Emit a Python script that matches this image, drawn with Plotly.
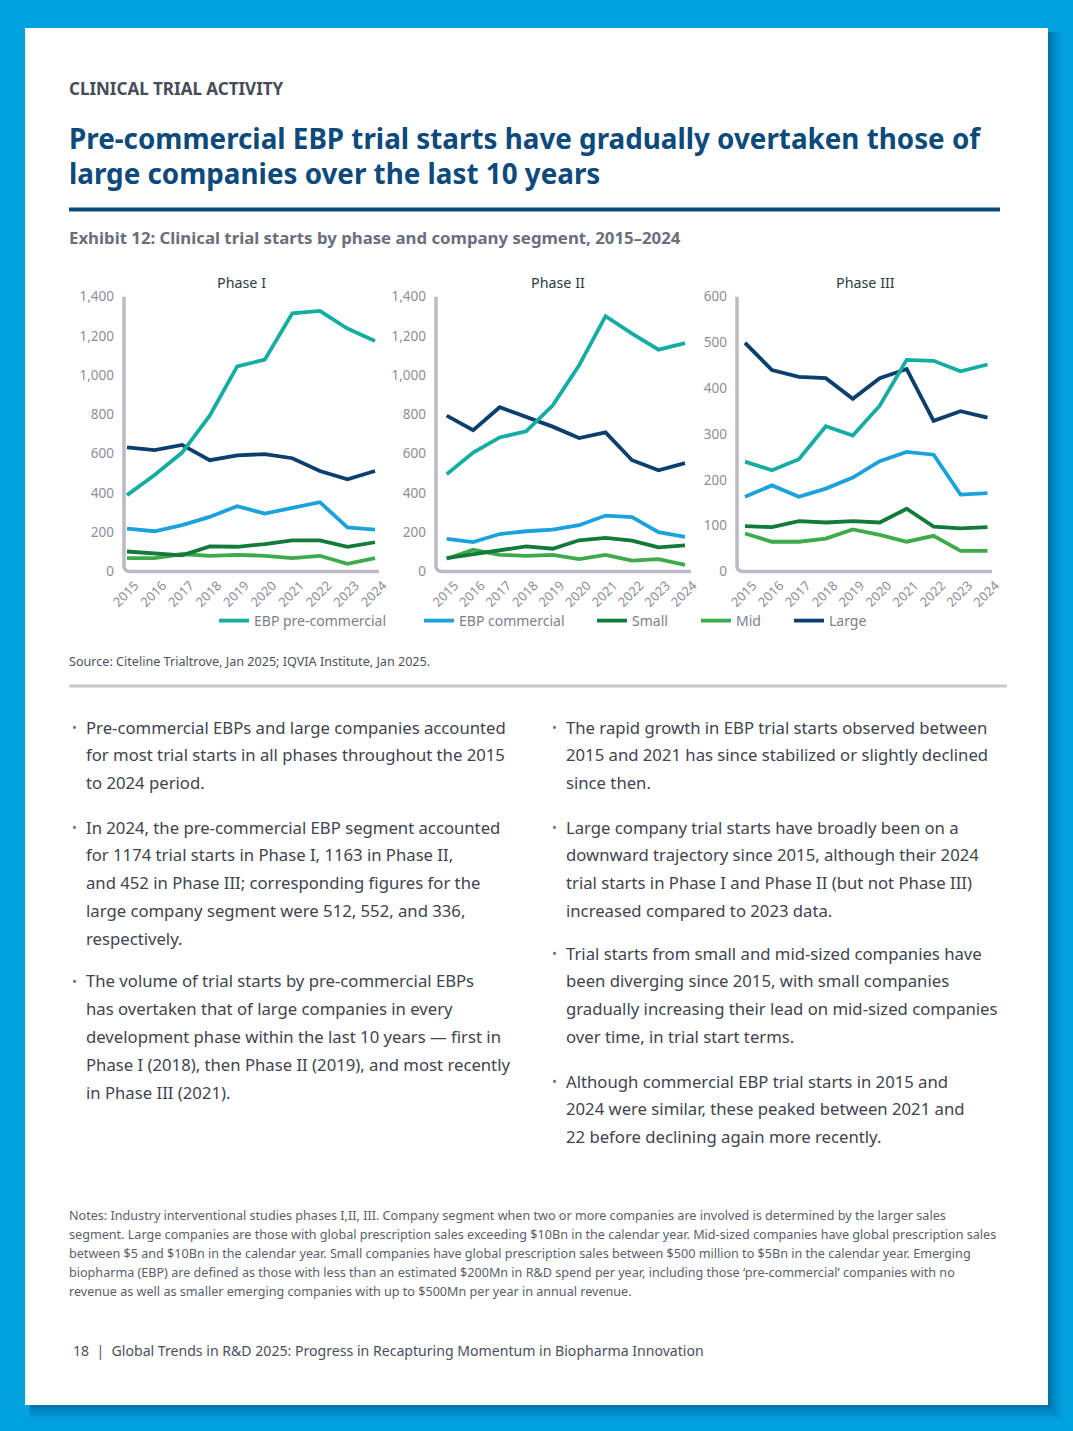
import plotly.graph_objects as go

W, H = 1073, 1431

# ---------------- data ----------------
years = [2015, 2016, 2017, 2018, 2019, 2020, 2021, 2022, 2023, 2024]
year_labels = [str(y) for y in years]
series_names = ["EBP pre-commercial", "EBP commercial", "Small", "Mid", "Large"]
phase_titles = ["Phase I", "Phase II", "Phase III"]

p1_precommercial = [389, 492, 606, 794, 1045, 1079, 1315, 1328, 1238, 1174]
p1_commercial = [218, 205, 236, 278, 333, 295, 324, 353, 225, 213]
p1_small = [102, 92, 82, 128, 126, 140, 159, 159, 126, 149]
p1_mid = [68, 68, 89, 80, 85, 80, 68, 80, 39, 68]
p1_large = [632, 618, 645, 567, 592, 598, 577, 512, 470, 512]

p2_precommercial = [495, 606, 683, 714, 845, 1050, 1301, 1212, 1130, 1163]
p2_commercial = [166, 150, 191, 205, 213, 236, 285, 277, 200, 176]
p2_small = [68, 89, 106, 128, 116, 159, 171, 157, 123, 133]
p2_mid = [65, 111, 85, 80, 85, 63, 85, 55, 63, 34]
p2_large = [794, 720, 837, 785, 738, 680, 709, 567, 516, 552]

p3_precommercial = [240, 221, 245, 317, 297, 362, 462, 460, 437, 452]
p3_commercial = [163, 188, 163, 181, 205, 241, 261, 255, 168, 171]
p3_small = [99, 97, 110, 107, 110, 107, 137, 98, 94, 97]
p3_mid = [83, 65, 65, 72, 92, 80, 65, 78, 45, 45]
p3_large = [499, 440, 425, 422, 377, 422, 442, 329, 350, 336]

y_ticks_p12 = [0, 200, 400, 600, 800, 1000, 1200, 1400]
y_ticks_p3 = [0, 100, 200, 300, 400, 500, 600]

phase_data = [
    [p1_precommercial, p1_commercial, p1_small, p1_mid, p1_large],
    [p2_precommercial, p2_commercial, p2_small, p2_mid, p2_large],
    [p3_precommercial, p3_commercial, p3_small, p3_mid, p3_large],
]
phase_ymax = [1400, 1400, 600]
phase_yticks = [y_ticks_p12, y_ticks_p12, y_ticks_p3]

# ---------------- styles ----------------
FONT = "Noto Sans"
colors = ["#14ada1", "#1ba2de", "#127a3a", "#3eab4a", "#0c3f6d"]
AXIS_GREY = "#b9bac3"
TICK_GREY = "#8b8e9b"
BODY = "#40444f"
NAVY_TITLE = "#0d4a7c"

# panel geometry in pixels: axis x, right end, first-year px, last-year px, title center
panels = [
    dict(x0=124, x1=379, first=127, last=375, tcx=241),
    dict(x0=436, x1=691, first=446.7, last=685, tcx=558),
    dict(x0=737, x1=992, first=745, last=987.5, tcx=865),
]
Y_TOP, Y_BOT = 296.7, 571.5


def px(xp):
    return xp / W


def py(yp):
    return 1 - yp / H


fig = go.Figure()

draw_order = [3, 2, 1, 4, 0]
for pi, pdata in enumerate(phase_data):
    sfx = "" if pi == 0 else str(pi + 1)
    for si in draw_order:
        show = pi == 0
        fig.add_trace(go.Scatter(
            x=years, y=pdata[si], mode="lines", name=series_names[si],
            line=dict(color=colors[si], width=3.8),
            xaxis="x" + sfx, yaxis="y" + sfx,
            showlegend=show,
            legend=("legend" if si == 0 else "legend" + str(si + 1)),
            hoverinfo="skip",
        ))

layout = dict(
    width=W, height=H, margin=dict(l=0, r=0, t=0, b=0, pad=0, autoexpand=False),
    paper_bgcolor="#00a1df", plot_bgcolor="rgba(0,0,0,0)",
    font=dict(family=FONT, color=BODY),
    template="none",
)

for pi, p in enumerate(panels):
    sfx = "" if pi == 0 else str(pi + 1)
    step = (p["last"] - p["first"]) / 9
    xr = [2015 - (p["first"] - p["x0"]) / step, 2024 + (p["x1"] - p["last"]) / step]
    layout["xaxis" + sfx] = dict(
        domain=[px(p["x0"]), px(p["x1"])], range=xr, anchor="y" + sfx,
        tickvals=years, ticktext=year_labels, tickangle=-45,
        tickfont=dict(family=FONT, size=13, color=TICK_GREY),
        showgrid=False, zeroline=False, showline=False, ticks="",
        ticklabelstandoff=3, ticklabelshift=8, fixedrange=True, automargin=False,
    )
    layout["yaxis" + sfx] = dict(
        domain=[py(Y_BOT), py(Y_TOP)], range=[0, phase_ymax[pi]], anchor="x" + sfx,
        tickvals=phase_yticks[pi], tickformat=",",
        tickfont=dict(family=FONT, size=13.5, color=TICK_GREY),
        showgrid=False, zeroline=False, showline=False, ticks="",
        ticklabelstandoff=9, fixedrange=True, automargin=False,
    )

# legends (one per series, positioned like the reference); values = end of line sample
legend_line_end = [249, 454, 627, 731, 824]
for si in range(5):
    key = "legend" if si == 0 else "legend" + str(si + 1)
    layout[key] = dict(
        x=px(legend_line_end[si] - 35), y=py(621), xanchor="left", yanchor="middle",
        orientation="h", bgcolor="rgba(0,0,0,0)", borderwidth=0,
        font=dict(family=FONT, size=14, color="#7b7f8c"),
    )

fig.update_layout(**layout)

shapes = []
# page shadow
for k, op in [(14, 0.05), (11, 0.06), (8, 0.08), (5, 0.09), (3, 0.11)]:
    shapes.append(dict(type="rect", xref="paper", yref="paper",
                       x0=px(30), x1=px(1048 + k), y0=py(1405 + k), y1=py(32),
                       fillcolor="rgba(0,40,80,%s)" % op, line=dict(width=0), layer="below"))
# white page
shapes.append(dict(type="rect", xref="paper", yref="paper",
                   x0=px(25), x1=px(1048), y0=py(1405), y1=py(28),
                   fillcolor="white", line=dict(width=0), layer="below"))
# title rule
shapes.append(dict(type="line", xref="paper", yref="paper",
                   x0=px(69), x1=px(1000), y0=py(209.5), y1=py(209.5),
                   line=dict(color=NAVY_TITLE, width=4), layer="below"))
# grey separator
shapes.append(dict(type="line", xref="paper", yref="paper",
                   x0=px(69), x1=px(1007), y0=py(686), y1=py(686),
                   line=dict(color="#c9c9cc", width=3), layer="below"))
# axis lines with rounded corner
r = 6
for p in panels:
    x0, x1 = px(p["x0"]), px(p["x1"])
    yt, yb = py(Y_TOP), py(Y_BOT)
    path = "M %f,%f L %f,%f Q %f,%f %f,%f L %f,%f" % (
        x0, yt, x0, yb + r / H, x0, yb, x0 + r / W, yb, x1, yb)
    shapes.append(dict(type="path", xref="paper", yref="paper", path=path,
                       line=dict(color=AXIS_GREY, width=3.5), layer="below"))
fig.update_layout(shapes=shapes)

annotations = []


def txt(x, y, text, size, color, anchor="left"):
    annotations.append(dict(
        x=px(x), y=py(y), xref="paper", yref="paper", text=text, showarrow=False,
        xanchor=anchor, yanchor="middle", align=anchor,
        font=dict(family=FONT, size=size, color=color),
    ))


txt(67, 88, "<b>CLINICAL TRIAL ACTIVITY</b>", 17, "#474c58")
txt(67, 138, "<b>Pre-commercial EBP trial starts have gradually overtaken those of</b>", 27.8, NAVY_TITLE)
txt(67, 173, "<b>large companies over the last 10 years</b>", 27.8, NAVY_TITLE)
txt(67, 238, "<b>Exhibit 12: Clinical trial starts by phase and company segment, 2015–2024</b>", 16.8, "#6a6e7e")

for pi, p in enumerate(panels):
    txt(p["tcx"], 283, phase_titles[pi], 14.3, "#2f3a44", anchor="center")

txt(67, 661, "Source: Citeline Trialtrove, Jan 2025; IQVIA Institute, Jan 2025.", 12.6, "#4d5160")

left_col = [
    (727, ["Pre-commercial EBPs and large companies accounted",
           "for most trial starts in all phases throughout the 2015",
           "to 2024 period."]),
    (827, ["In 2024, the pre-commercial EBP segment accounted",
           "for 1174 trial starts in Phase I, 1163 in Phase II,",
           "and 452 in Phase III; corresponding figures for the",
           "large company segment were 512, 552, and 336,",
           "respectively."]),
    (981, ["The volume of trial starts by pre-commercial EBPs",
           "has overtaken that of large companies in every",
           "development phase within the last 10 years — first in",
           "Phase I (2018), then Phase II (2019), and most recently",
           "in Phase III (2021)."]),
]
right_col = [
    (727, ["The rapid growth in EBP trial starts observed between",
           "2015 and 2021 has since stabilized or slightly declined",
           "since then."]),
    (827, ["Large company trial starts have broadly been on a",
           "downward trajectory since 2015, although their 2024",
           "trial starts in Phase I and Phase II (but not Phase III)",
           "increased compared to 2023 data."]),
    (953, ["Trial starts from small and mid-sized companies have",
           "been diverging since 2015, with small companies",
           "gradually increasing their lead on mid-sized companies",
           "over time, in trial start terms."]),
    (1081, ["Although commercial EBP trial starts in 2015 and",
            "2024 were similar, these peaked between 2021 and",
            "22 before declining again more recently."]),
]
LH = 27.9
for col, bx, tx in [(left_col, 70, 84), (right_col, 550, 564)]:
    for y0, lines in col:
        txt(bx, y0, "•", 13, "#6b6f7c")
        for i, line in enumerate(lines):
            txt(tx, y0 + i * LH, line, 16.7, BODY)

notes = [
    "Notes: Industry interventional studies phases I,II, III. Company segment when two or more companies are involved is determined by the larger sales",
    "segment. Large companies are those with global prescription sales exceeding $10Bn in the calendar year. Mid-sized companies have global prescription sales",
    "between $5 and $10Bn in the calendar year. Small companies have global prescription sales between $500 million to $5Bn in the calendar year. Emerging",
    "biopharma (EBP) are defined as those with less than an estimated $200Mn in R&D spend per year, including those ‘pre-commercial’ companies with no",
    "revenue as well as smaller emerging companies with up to $500Mn per year in annual revenue.",
]
for i, line in enumerate(notes):
    txt(67, 1215.5 + i * 19, line, 12.6, "#5a5e6c")

txt(71, 1350, "18  |  Global Trends in R&amp;D 2025: Progress in Recapturing Momentum in Biopharma Innovation", 14.1, "#4b4f5c")

fig.update_layout(annotations=annotations)
fig.write_html("out.html", config={"displayModeBar": False},
               post_script="document.body.style.margin='0';document.body.style.overflow='hidden';")
